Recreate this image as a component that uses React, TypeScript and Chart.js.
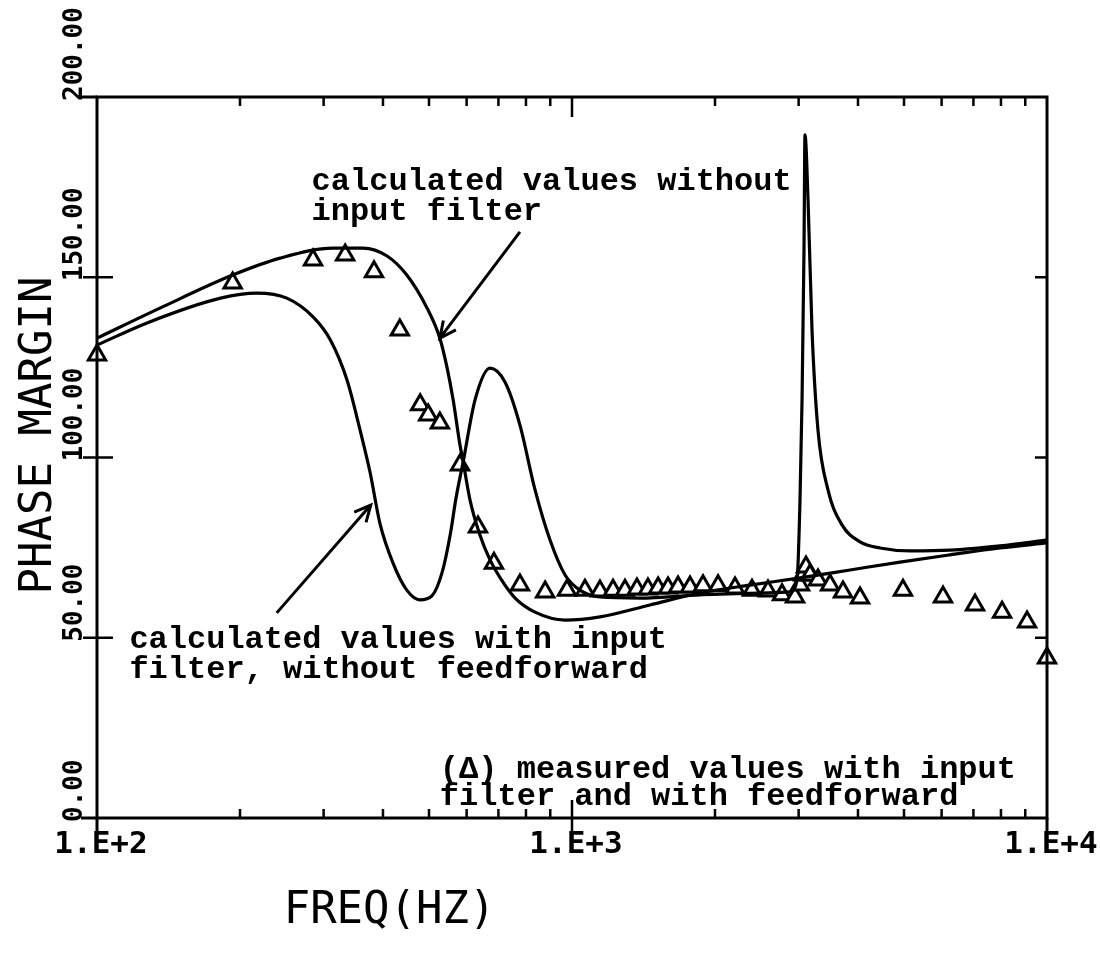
import React, { useEffect, useRef } from "react";
import { Chart, registerables } from "chart.js";

Chart.register(...registerables);

// ---------------- data ----------------
const xTickValues = [100, 1000, 10000];
const xTickLabels = ["1.E+2", "1.E+3", "1.E+4"];
const xMinorMultipliers = [2, 3, 4, 5, 6, 7, 8, 9];
const yTickValues = [0, 50, 100, 150, 200];
const yTickLabels = ["0.00", "50.00", "100.00", "150.00", "200.00"];

// calculated values without input filter
const noFilterFreq = [100, 136, 193, 243, 314, 363, 408, 449, 495, 527, 546, 562, 581, 590, 610, 640, 672, 706, 759, 836, 967, 1145, 1459, 1860, 2370, 3020, 3849, 4904, 6250, 7963, 10000];
const noFilterPhase = [133.1, 141.5, 150.6, 155.3, 158.1, 158.1, 155.9, 150.6, 141.5, 133.1, 124.8, 116.0, 103.5, 98.8, 88.2, 78.5, 71.6, 66.6, 61.0, 57.1, 54.9, 55.8, 59.1, 62.4, 64.6, 66.6, 68.8, 71.0, 73.0, 74.9, 76.3];

// calculated values with input filter, without feedforward
const withFilterFreq = [100, 129, 182, 217, 251, 285, 310, 336, 358, 376, 394, 420, 449, 479, 507, 533, 554, 570, 590, 625, 672, 723, 777, 836, 899, 967, 1039, 1145, 1390, 1860, 2488, 2876, 2977, 3020, 3050, 3079, 3094, 3140, 3201, 3295, 3459, 3702, 4040, 4450, 5148, 6250, 7963, 10000];
const withFilterPhase = [131.2, 137.6, 144.2, 145.6, 144.2, 139.0, 132.6, 121.5, 107.6, 95.7, 81.8, 70.7, 63.2, 60.5, 61.6, 68.2, 78.5, 88.8, 98.8, 116.0, 124.8, 120.9, 109.0, 91.0, 77.1, 67.4, 63.2, 61.3, 61.0, 61.9, 62.4, 62.7, 66.0, 88.2, 116.0, 157.6, 189.5, 171.4, 135.4, 107.6, 91.0, 81.3, 76.6, 74.9, 74.1, 74.3, 75.5, 77.1];

// measured values with input filter and with feedforward
const measuredFreq = [100, 193, 285, 333, 383, 434, 479, 498, 527, 581, 634, 685, 777, 878, 976, 1065, 1145, 1220, 1293, 1370, 1445, 1518, 1593, 1672, 1772, 1887, 2030, 2204, 2393, 2586, 2768, 2948, 3020, 3064, 3109, 3170, 3295, 3493, 3720, 4040, 4975, 6040, 7054, 8043, 9078, 10000];
const measuredPhase = [128.4, 148.4, 154.8, 156.2, 151.5, 135.4, 114.6, 111.8, 109.6, 97.9, 80.7, 70.7, 64.6, 62.7, 63.2, 63.2, 63.0, 63.2, 63.2, 63.5, 63.5, 63.8, 63.8, 64.1, 64.1, 64.4, 64.4, 63.8, 63.2, 63.0, 61.9, 61.3, 64.6, 67.4, 69.6, 67.4, 66.0, 64.6, 62.7, 61.0, 63.2, 61.3, 59.1, 57.1, 54.4, 44.4];

// annotation texts, anchored in data space (freq, phase)
const note1Lines = ["calculated values without", "input filter"];
const note1Anchor = [283, 176.4];
const note2Lines = ["calculated values with input", "filter, without feedforward"];
const note2Anchor = [117, 49.4];
const note3Lines = ["(\u0394) measured values with input", "filter and with feedforward"];
const note3Anchor = [527, 13.3];
const arrow1 = { from: [777, 162.6], to: [527, 133.1] };
const arrow2 = { from: [239, 56.9], to: [377, 86.8] };

const yTitle = "PHASE MARGIN";
const xTitle = "FREQ(HZ)";

const toPoints = (xs: number[], ys: number[]) => xs.map((x, i) => ({ x, y: ys[i] }));

const overlayPlugin = {
  id: "overlay",
  afterDatasetsDraw(chart: any) {
    const { ctx, chartArea: a, scales } = chart;
    const xs = scales.x;
    const ys = scales.y;
    ctx.save();
    ctx.strokeStyle = "#000";
    ctx.fillStyle = "#000";
    ctx.lineCap = "butt";

    // frame
    ctx.lineWidth = 3;
    ctx.strokeRect(a.left, a.top, a.right - a.left, a.bottom - a.top);
    ctx.beginPath();
    ctx.moveTo(a.left - 16, a.top);
    ctx.lineTo(a.left, a.top);
    ctx.moveTo(a.left - 16, a.bottom);
    ctx.lineTo(a.left, a.bottom);
    ctx.moveTo(a.left, a.bottom);
    ctx.lineTo(a.left, a.bottom + 16);
    ctx.moveTo(a.right, a.bottom);
    ctx.lineTo(a.right, a.bottom + 16);
    ctx.stroke();

    // y ticks
    ctx.lineWidth = 2.5;
    ctx.beginPath();
    for (const v of yTickValues) {
      if (v === yTickValues[0] || v === yTickValues[yTickValues.length - 1]) continue;
      const y = ys.getPixelForValue(v);
      ctx.moveTo(a.left - 14, y);
      ctx.lineTo(a.left + 16, y);
      ctx.moveTo(a.right - 12, y);
      ctx.lineTo(a.right, y);
    }
    // x minor ticks
    for (const dec of xTickValues.slice(0, 2)) {
      for (const m of xMinorMultipliers) {
        const x = xs.getPixelForValue(dec * m);
        ctx.moveTo(x, a.top);
        ctx.lineTo(x, a.top + 9);
        ctx.moveTo(x, a.bottom);
        ctx.lineTo(x, a.bottom - 9);
      }
    }
    const xm = xs.getPixelForValue(xTickValues[1]);
    ctx.moveTo(xm, a.top);
    ctx.lineTo(xm, a.top + 20);
    ctx.moveTo(xm, a.bottom - 18);
    ctx.lineTo(xm, a.bottom + 16);
    ctx.stroke();

    // y tick labels (rotated)
    ctx.font = "bold 26px 'DejaVu Sans Mono'";
    ctx.textBaseline = "middle";
    ctx.textAlign = "left";
    yTickValues.forEach((v, i) => {
      const y = ys.getPixelForValue(v);
      ctx.save();
      ctx.translate(a.left - 22, y + 4);
      ctx.rotate(-Math.PI / 2);
      ctx.fillText(yTickLabels[i], 0, 0);
      ctx.restore();
    });

    // x tick labels
    ctx.font = "bold 31px 'DejaVu Sans Mono'";
    ctx.textAlign = "center";
    xTickValues.forEach((v, i) => {
      const x = xs.getPixelForValue(v);
      ctx.fillText(xTickLabels[i], x + 4, a.bottom + 27);
    });

    // axis titles
    ctx.font = "44px 'DejaVu Sans Mono'";
    ctx.save();
    ctx.translate(a.left - 57, (a.top + a.bottom) / 2 - 22);
    ctx.rotate(-Math.PI / 2);
    ctx.fillText(yTitle, 0, 0);
    ctx.restore();
    ctx.fillText(xTitle, a.left + (a.right - a.left) * 0.308, a.bottom + 94);

    // annotations
    ctx.font = "bold 32px 'Liberation Mono'";
    ctx.textAlign = "left";
    const drawNote = (lines: string[], anchor: number[], gap: number) => {
      const x = xs.getPixelForValue(anchor[0]);
      const y = ys.getPixelForValue(anchor[1]);
      lines.forEach((t, i) => ctx.fillText(t, x, y + i * gap));
    };
    drawNote(note1Lines, note1Anchor, 30);
    drawNote(note2Lines, note2Anchor, 30);
    drawNote(note3Lines, note3Anchor, 27);

    // arrows
    const drawArrow = (ar: { from: number[]; to: number[] }) => {
      const x1 = xs.getPixelForValue(ar.from[0]);
      const y1 = ys.getPixelForValue(ar.from[1]);
      const x2 = xs.getPixelForValue(ar.to[0]);
      const y2 = ys.getPixelForValue(ar.to[1]);
      const ang = Math.atan2(y2 - y1, x2 - x1);
      const L = 18;
      ctx.lineWidth = 3;
      ctx.beginPath();
      ctx.moveTo(x1, y1);
      ctx.lineTo(x2, y2);
      ctx.moveTo(x2 - L * Math.cos(ang - 0.45), y2 - L * Math.sin(ang - 0.45));
      ctx.lineTo(x2, y2);
      ctx.lineTo(x2 - L * Math.cos(ang + 0.45), y2 - L * Math.sin(ang + 0.45));
      ctx.stroke();
    };
    drawArrow(arrow1);
    drawArrow(arrow2);

    ctx.restore();
  },
};

export default function App() {
  const ref = useRef<HTMLCanvasElement>(null);
  useEffect(() => {
    document.body.style.margin = "0";
    const canvas = ref.current;
    if (!canvas) return;
    const lineStyle = {
      borderColor: "#000",
      borderWidth: 3.2,
      pointRadius: 0,
      fill: false,
      cubicInterpolationMode: "monotone" as const,
    };
    const chart = new Chart(canvas, {
      type: "line",
      data: {
        datasets: [
          { label: "calculated values without input filter", data: toPoints(noFilterFreq, noFilterPhase), ...lineStyle },
          { label: "calculated values with input filter, without feedforward", data: toPoints(withFilterFreq, withFilterPhase), ...lineStyle },
          {
            label: "measured values with input filter and with feedforward",
            data: toPoints(measuredFreq, measuredPhase),
            showLine: false,
            pointStyle: "triangle",
            pointRadius: 10,
            borderColor: "#000",
            backgroundColor: "#fff",
            borderWidth: 3,
            clip: false as any,
          },
        ],
      },
      options: {
        animation: false,
        responsive: false,
        devicePixelRatio: 1,
        events: [],
        layout: { padding: { left: 97, right: 53, top: 97, bottom: 145 } },
        plugins: { legend: { display: false }, tooltip: { enabled: false } },
        scales: {
          x: { type: "logarithmic", min: 100, max: 10000, display: false },
          y: { type: "linear", min: 0, max: 200, display: false },
        },
      },
      plugins: [overlayPlugin],
    });
    return () => chart.destroy();
  }, []);
  return <canvas ref={ref} width={1100} height={963} style={{ display: "block" }} />;
}
